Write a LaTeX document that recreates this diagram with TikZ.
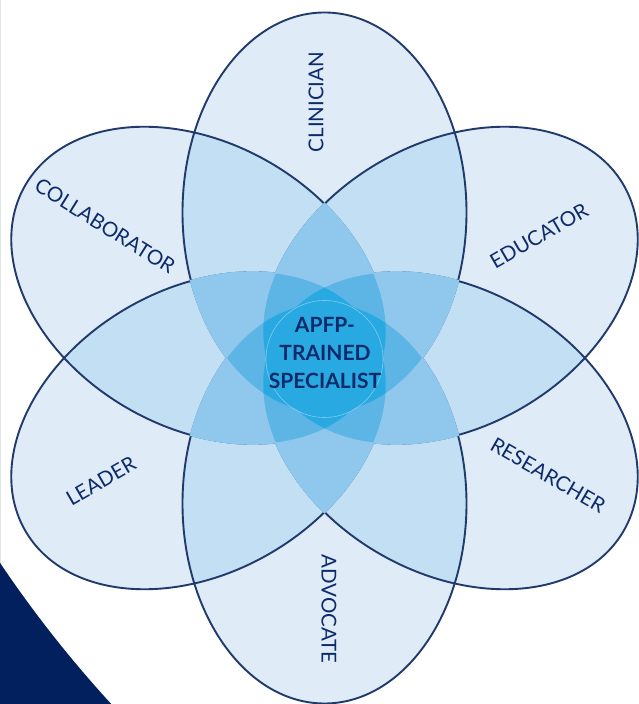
\documentclass[tikz,border=0pt]{standalone}
\usepackage{fontspec}
\setmainfont{Lato}
\definecolor{depthA}{HTML}{DFEBF7}
\definecolor{depthB}{HTML}{C3DFF3}
\definecolor{depthC}{HTML}{8FC8EC}
\definecolor{depthD}{HTML}{5DB5E6}
\definecolor{depthE}{HTML}{29A9E1}
\definecolor{petalline}{HTML}{1F3A6B}
\definecolor{labelink}{HTML}{0D2B6B}
\definecolor{cornernavy}{HTML}{02205D}
\definecolor{coreline}{HTML}{7DCBF0}

% petal k points at angle 90-60(k-1); its centre sits 145.5 from the hub
\def\hub{(324.5,346)}
\newcommand\petclip[2]{%
  \pgfmathsetmacro\pa{90-60*(#1-1)}%
  \pgfmathsetmacro\ra{200+#2}\pgfmathsetmacro\rb{142+#2}%
  \clip[shift={\hub},rotate=\pa] (145.5,0) ellipse [x radius=\ra, y radius=\rb];}
\newcommand\petfill[3]{%
  \pgfmathsetmacro\pa{90-60*(#1-1)}%
  \pgfmathsetmacro\ra{200+#2}\pgfmathsetmacro\rb{142+#2}%
  \fill[#3,shift={\hub},rotate=\pa] (145.5,0) ellipse [x radius=\ra, y radius=\rb];}
\newcommand\petdraw[1]{%
  \pgfmathsetmacro\pa{90-60*(#1-1)}%
  \draw[petalline,line width=1.9,shift={\hub},rotate=\pa] (145.5,0) ellipse [x radius=200, y radius=142];}
\newcommand\clipunless[1]{\ifnum#1=\ma\relax\else\ifnum#1=\mb\relax\else\petclip{#1}{0}\fi\fi}
\newcommand\clipothers{\clipunless{1}\clipunless{2}\clipunless{3}\clipunless{4}\clipunless{5}\clipunless{6}}

\begin{document}
\begin{tikzpicture}[x=1pt,y=1pt,
  lab/.style={text=labelink,font=\fontsize{20.5}{20.5}\selectfont,inner sep=0pt},
  coretext/.style={text=labelink,font=\fontsize{21}{28}\selectfont\bfseries,align=center,inner sep=0pt}]
\useasboundingbox (0,0) rectangle (639,704);
\clip (0,0) rectangle (639,704);

% navy corner outside a large arc
\fill[cornernavy,even odd rule] (0,0) rectangle (639,704) (989,805) circle (1191);

% covered once
\foreach \i in {1,...,6}{\petfill{\i}{0}{depthA}}
% covered twice
\foreach \i in {1,...,6}{\foreach \j in {1,...,6}{\ifnum\j>\i\relax
  \begin{scope}\petclip{\i}{0}\petfill{\j}{0}{depthB}\end{scope}\fi}}
% outlines
\foreach \i in {1,...,6}{\petdraw{\i}}
% covered three times (slightly grown to hide the outlines inside)
\foreach \i in {1,...,6}{\foreach \j in {1,...,6}{\foreach \k in {1,...,6}{%
  \ifnum\j>\i\relax\ifnum\k>\j\relax
  \begin{scope}\petclip{\i}{1.1}\petclip{\j}{1.1}\petfill{\k}{1.1}{depthC}\end{scope}\fi\fi}}}
% covered four times
\foreach \ma in {1,...,6}{\foreach \mb in {1,...,6}{\ifnum\mb>\ma\relax
  \begin{scope}\clipothers\fill[depthD] (0,0) rectangle (639,704);\end{scope}\fi}}
% covered five or six times
\foreach \ma in {1,...,6}{\def\mb{0}%
  \begin{scope}\clipothers\fill[depthE] (0,0) rectangle (639,704);\end{scope}}

\node[circle,minimum size=117,inner sep=0pt,draw=coreline,line width=0.6] (core) at (324.5,345) {};
\node[coretext] (title) at (325,351) {APFP-\\TRAINED\\SPECIALIST};

\node[lab,rotate=90] (clinician) at (316,602) {CLINICIAN};
\node[lab,rotate=30] (educator) at (539,468) {EDUCATOR};
\node[lab,rotate=-30] (researcher) at (548,229) {RESEARCHER};
\node[lab,rotate=-90] (advocate) at (329,95) {ADVOCATE};
\node[lab,rotate=30] (leader) at (101,223) {LEADER};
\node[lab,rotate=-32] (collaborator) at (105,478) {COLLABORATOR};
\end{tikzpicture}
\end{document}
